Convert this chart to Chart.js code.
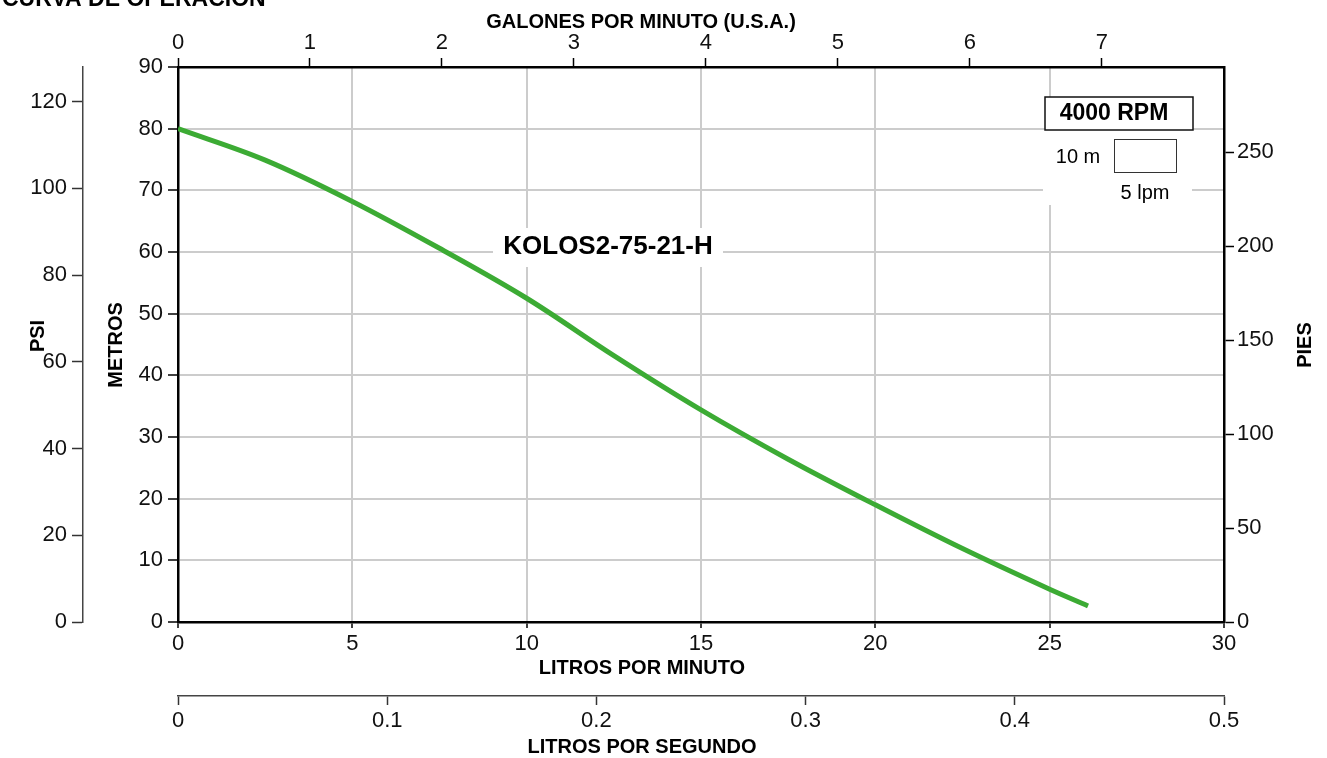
<!DOCTYPE html>
<html>
<head>
<meta charset="utf-8">
<script src="https://cdn.jsdelivr.net/npm/chart.js@4.4.1/dist/chart.umd.min.js"></script>
<style>
  html, body { margin: 0; padding: 0; background: #fff; }
  canvas { display: block; }
</style>
</head>
<body>
<canvas id="curva" width="1327" height="758"></canvas>
<script>
// curva de operación, litros por minuto vs metros
const lpm = [0, 2.5, 5, 7.5, 10, 12.5, 15, 17.5, 20, 22.5, 25, 26.1];
const metros = [80, 74.9, 68.2, 60.6, 52.5, 43.2, 34.4, 26.4, 19.0, 11.9, 5.3, 2.6];

const modelo = "KOLOS2-75-21-H";
const rpm = "4000 RPM";

// conversiones para los ejes secundarios
const LPM_MAX = 30;
const M_MAX = 90;
const GAL_LITRO = 3.78541;
const PSI_METRO = 1.4219;
const PIE_METRO = 0.3048;

const FONT = "'Liberation Sans', Arial, sans-serif";

function fixWidth(w) { return scale => { scale.width = w; }; }
function fixHeight(h) { return scale => { scale.height = h; }; }

const tickFont = { family: FONT, size: 22 };

function sideAxis(opts) {
  return Object.assign({
    type: "linear",
    grid: { drawOnChartArea: false, color: "#000", tickLength: 10, tickWidth: 1.5 },
    border: { color: "#000", width: 2.5 },
    ticks: { color: "#111", font: tickFont, includeBounds: false, padding: 3, autoSkip: false, maxRotation: 0 }
  }, opts);
}

const deco = {
  id: "deco",
  beforeDatasetsDraw(chart) {
    const ctx = chart.ctx;
    ctx.save();
    ctx.fillStyle = "#fff";
    ctx.fillRect(493, 228, 230, 39);
    ctx.fillRect(1043, 130, 149, 75);

    ctx.font = "bold 26px " + FONT;
    ctx.fillStyle = "#000";
    ctx.textAlign = "center";
    ctx.textBaseline = "middle";
    ctx.fillText(modelo, 608, 247);

    // recuadro de escala
    ctx.fillStyle = "#fff";
    ctx.fillRect(1045, 97, 148, 33);
    ctx.strokeStyle = "#111";
    ctx.lineWidth = 1.5;
    ctx.strokeRect(1045, 97, 148, 33);
    ctx.fillStyle = "#000";
    ctx.font = "bold 23px " + FONT;
    ctx.fillText(rpm, 1114, 114);

    ctx.lineWidth = 1;
    ctx.strokeStyle = "#333";
    ctx.strokeRect(1114.5, 139.5, 62, 33);
    ctx.font = "20px " + FONT;
    ctx.fillText("10 m", 1078, 157);
    ctx.fillText("5 lpm", 1145, 193);
    ctx.restore();
  },
  afterDraw(chart) {
    const ctx = chart.ctx;
    ctx.save();
    ctx.fillStyle = "#000";
    ctx.font = "bold 23px " + FONT;
    ctx.textAlign = "left";
    ctx.textBaseline = "alphabetic";
    ctx.fillText("CURVA DE OPERACIÓN", 2, 6);

    ctx.font = "bold 20px " + FONT;
    ctx.textAlign = "center";
    ctx.textBaseline = "middle";
    ctx.fillText("GALONES POR MINUTO (U.S.A.)", 641, 22);
    ctx.fillText("LITROS POR MINUTO", 642, 668);
    ctx.fillText("LITROS POR SEGUNDO", 642, 747);

    const vertical = (text, x, y) => {
      ctx.save();
      ctx.translate(x, y);
      ctx.rotate(-Math.PI / 2);
      ctx.fillText(text, 0, 0);
      ctx.restore();
    };
    vertical("PSI", 38, 336);
    vertical("METROS", 116, 345);
    vertical("PIES", 1305, 345);
    ctx.restore();
  }
};

new Chart(document.getElementById("curva"), {
  type: "line",
  data: {
    datasets: [{
      data: lpm.map((x, i) => ({ x, y: metros[i] })),
      borderColor: "#3cab34",
      borderWidth: 5,
      pointRadius: 0,
      fill: false,
      tension: 0.35,
      xAxisID: "x",
      yAxisID: "y"
    }]
  },
  options: {
    responsive: false,
    animation: false,
    locale: "en-US",
    layout: { padding: 0 },
    plugins: { legend: { display: false }, tooltip: { enabled: false } },
    scales: {
      x: {
        type: "linear", position: "bottom", weight: 0,
        min: 0, max: LPM_MAX,
        grid: { color: "#cccccc", lineWidth: 2, tickColor: "#000", tickLength: 6, tickWidth: 1.5 },
        border: { color: "#000", width: 2.5 },
        ticks: { stepSize: 5, color: "#111", font: tickFont, padding: 3, autoSkip: false, maxRotation: 0 },
        afterFit: fixHeight(74)
      },
      lps: sideAxis({
        position: "bottom", weight: 1,
        min: 0, max: LPM_MAX / 60,
        grid: { drawOnChartArea: false, color: "#333", tickLength: 9, tickWidth: 1.5 },
        border: { color: "#444", width: 1.5 },
        ticks: { stepSize: 0.1, color: "#111", font: tickFont, padding: 3, autoSkip: false, maxRotation: 0,
                 callback: v => String(Number(v.toFixed(1))) },
        afterFit: fixHeight(62)
      }),
      gpm: sideAxis({
        position: "top", weight: 0,
        min: 0, max: LPM_MAX / GAL_LITRO,
        grid: { drawOnChartArea: false, color: "#000", tickLength: 9, tickWidth: 1.5 },
        ticks: { stepSize: 1, color: "#111", font: tickFont, includeBounds: false, padding: 2, autoSkip: false, maxRotation: 0 },
        afterFit: fixHeight(67)
      }),
      y: {
        type: "linear", position: "left", weight: 0,
        min: 0, max: M_MAX,
        grid: { color: "#cccccc", lineWidth: 2, tickColor: "#000", tickLength: 10, tickWidth: 1.5 },
        border: { color: "#000", width: 2.5 },
        ticks: { stepSize: 10, color: "#111", font: tickFont, padding: 5 },
        afterFit: fixWidth(95)
      },
      psi: sideAxis({
        position: "left", weight: 1,
        min: 0, max: M_MAX * PSI_METRO,
        grid: { drawOnChartArea: false, color: "#333", tickLength: 11, tickWidth: 1.5 },
        border: { color: "#444", width: 1.5 },
        ticks: { stepSize: 20, color: "#111", font: tickFont, includeBounds: false, padding: 5 },
        afterFit: fixWidth(83)
      }),
      pies: sideAxis({
        position: "right", weight: 0,
        min: 0, max: M_MAX / PIE_METRO,
        ticks: { stepSize: 50, color: "#111", font: tickFont, includeBounds: false, padding: 3 },
        afterFit: fixWidth(103)
      })
    }
  },
  plugins: [deco]
});
</script>
</body>
</html>
